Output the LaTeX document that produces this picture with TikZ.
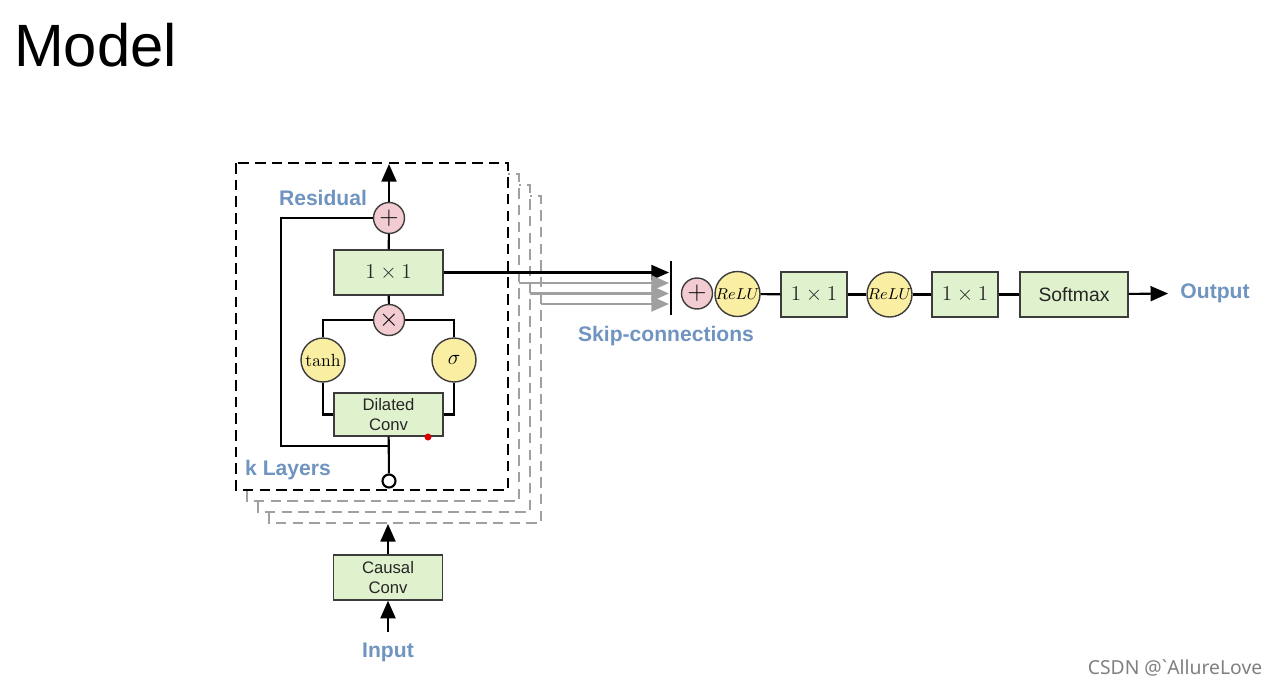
\documentclass[tikz,border=0pt]{standalone}
\usepackage{amsmath}
\usepackage{fontspec}
\usepackage{tikz}
\usetikzlibrary{arrows.meta}
\newfontfamily\helv{Liberation Sans}
\newfontfamily\marksans{Noto Sans}
\definecolor{labelblue}{RGB}{112,148,192}
\definecolor{boxgreen}{RGB}{224,242,205}
\definecolor{oppink}{RGB}{242,204,208}
\definecolor{actyellow}{RGB}{250,238,162}
\definecolor{stackgray}{RGB}{160,160,160}
\definecolor{inkgray}{RGB}{60,60,60}
\tikzset{x=0.02cm, y=-0.02cm,
      >={Triangle[length=10pt,width=8.5pt]},
      layer/.style={draw=inkgray, fill=boxgreen, line width=0.8pt,
      minimum width=2.18cm, minimum height=0.9cm, inner sep=0pt,
      align=center, text=black!85, font=\helv\fontsize{9.5}{11.5}\selectfont},
      small/.style={minimum width=1.32cm},
      op/.style={circle, draw=inkgray, fill=oppink, line width=0.8pt,
      minimum size=0.62cm, inner sep=0pt, font=\Large},
      act/.style={circle, draw=inkgray, fill=actyellow, line width=0.8pt,
      minimum size=0.88cm, inner sep=0pt},
      tap/.style={circle, draw=black, fill=white, line width=1.2pt,
      minimum size=0.26cm, inner sep=0pt},
      lbl/.style={text=labelblue, inner sep=0pt,
      font=\helv\bfseries\fontsize{12}{14}\selectfont},
      layerbox/.style={draw=black, fill=white, line width=1.3pt,
      dash pattern=on 6pt off 3.5pt},
      stackbox/.style={draw=stackgray, fill=white, line width=1.1pt,
      dash pattern=on 6pt off 3.5pt},
      wire/.style={draw, line width=1.2pt}}

\begin{document}
\begin{tikzpicture}
          \useasboundingbox (0,0) rectangle (1280,686);
          \node[font=\helv\fontsize{34}{40}\selectfont, anchor=base west] (title) at (8,67) {Model};

          % stacked layers
          \foreach \k in {3,2,1}
            \draw[stackbox] ({236+11*\k},{163+11*\k}) rectangle ({508+11*\k},{490+11*\k});
          \draw[layerbox] (236,163) rectangle (508,490);

          \node[op] (sum) at (389,218) {$+$};
          \node[layer] (res) at (388.5,272.5) {\large$1\times 1$};
          \node[op] (prod) at (389,320) {$\times$};
          \node[act] (tanh) at (323,360) {$\tanh$};
          \node[act] (sig) at (454,360) {\large$\sigma$};
          \node[layer, minimum height=0.86cm] (dil) at (388.5,414.5) {Dilated\\Conv};
          \node[tap] (tap) at (389,481) {};
          \node[layer] (causal) at (388,577.5) {Causal\\Conv};
          \coordinate (top) at (389,164);
          \coordinate (turn) at (281,446);
          \coordinate (join) at (389,446);
          \coordinate (stackin) at (388,524);
          \coordinate (inbot) at (388,632);

          \node[lbl] (reslbl) at (323,198) {Residual};
          \node[lbl] (klbl) at (288,470) {k Layers};
          \node[lbl] (inlbl) at (388,652) {Input};

          \draw[wire,->] (sum) -- (top);
          \draw[wire] (res) -- (sum);
          \draw[wire] (prod) -- (res);
          \draw[wire] (prod) -| (tanh);
          \draw[wire] (prod) -| (sig);
          \draw[wire] (dil) -| (tanh);
          \draw[wire] (dil) -| (sig);
          \draw[wire] (dil) -- (tap);
          \draw[wire] (sum) -| (turn) -- (join);
          \draw[wire,->] (causal) -- (stackin);
          \draw[wire,->] (inbot) -- (causal);
          \fill[red!85!black] (428,437) circle (0.07cm);

          % skip connections
          \coordinate (skip) at (669,272.5);
          \draw[wire,->] (res) -- (skip);
          \foreach \k in {1,2,3} {
            \coordinate (s\k) at ({508+11*\k},{272.5+10.5*\k});
            \coordinate (e\k) at (669,{272.5+10.5*\k});
            \draw[wire, stackgray, ->] (s\k) -- (e\k);
          }
          \coordinate (bartop) at (671,261);
          \coordinate (barbot) at (671,315);
          \draw[line width=1.5pt] (bartop) -- (barbot);
          \node[lbl] (skiplbl) at (666,336) {Skip-connections};

          % output stack
          \node[op] (add) at (697,293.5) {$+$};
          \node[act, minimum size=0.9cm] (relua) at (737.5,294) {\small$ReLU$};
          \node[layer, small] (fca) at (814,294.5) {\large$1\times 1$};
          \node[act, minimum size=0.9cm] (relub) at (889.5,294.5) {\small$ReLU$};
          \node[layer, small] (fcb) at (965,294.5) {\large$1\times 1$};
          \node[layer, minimum width=2.16cm, font=\helv\fontsize{11}{13}\selectfont] (soft) at (1074,294.5) {Softmax};
          \node[lbl] (outlbl) at (1215,293) {Output};

          \draw[wire] (relua) -- (fca);
          \draw[wire] (fca) -- (relub);
          \draw[wire] (relub) -- (fcb);
          \draw[wire] (fcb) -- (soft);
          \draw[wire,->,shorten >=0.24cm] (soft) -- (outlbl);

          \node[font=\marksans\fontsize{11}{13}\selectfont, text=black!50] (mark) at (1175,668) {CSDN @\textasciigrave AllureLove};
       \end{tikzpicture}
\end{document}
